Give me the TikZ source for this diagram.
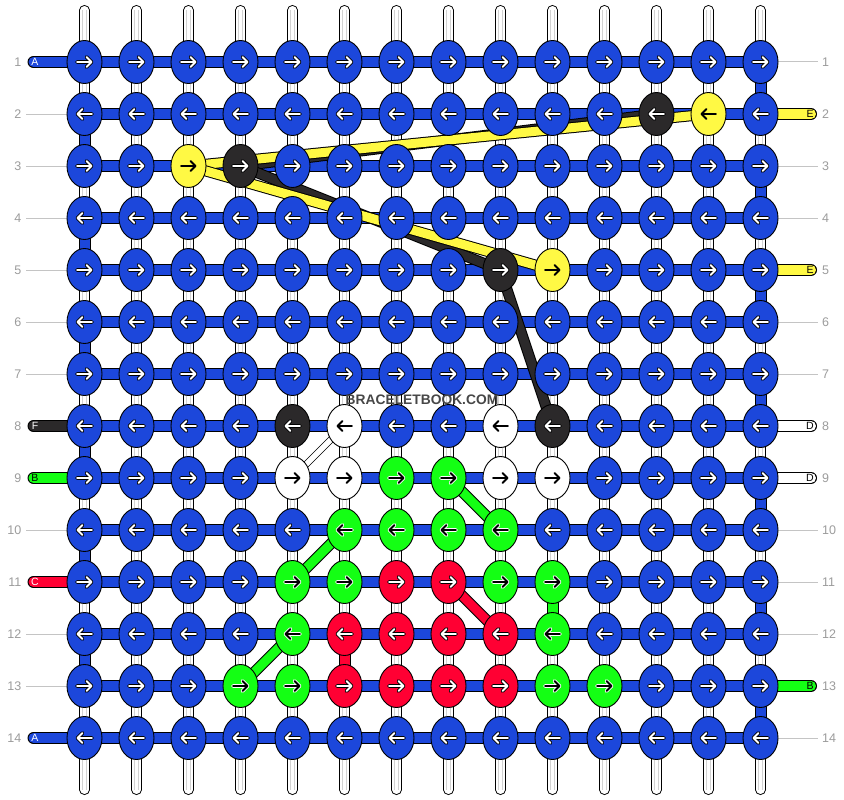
\documentclass[tikz,border=0pt]{standalone}
\usepackage{fontspec}
\setmainfont{Liberation Sans}
\usetikzlibrary{shapes.geometric}
\definecolor{cb}{HTML}{1C47DB}
\definecolor{ck}{HTML}{2B292A}
\definecolor{cy}{HTML}{FFF944}
\definecolor{cw}{HTML}{FFFFFF}
\definecolor{cg}{HTML}{14FF14}
\definecolor{cr}{HTML}{FF0033}
\definecolor{numgray}{HTML}{9C9C9C}
\definecolor{linegray}{HTML}{C4C4C4}
\definecolor{stripegray}{HTML}{D2D2D2}
\tikzset{
  knot/.style={ellipse, draw=black, line width=0.9pt, minimum width=35pt, minimum height=43pt, inner sep=0pt},
  vout/.style={draw=black, line width=10.5pt, line cap=round},
  vin/.style={draw=white, line width=8.5pt, line cap=round},
  vstripe/.style={draw=stripegray, line width=0.8pt},
  sout/.style={draw=black, line width=12pt},
  sin/.style={draw=#1, line width=10pt},
  tout/.style={draw=black, line width=12pt, line cap=round},
  tin/.style={draw=#1, line width=10pt, line cap=round},
  dout/.style={draw=black, line width=11pt},
  din/.style={draw=#1, line width=9pt},
  gline/.style={draw=linegray, line width=1pt},
  numlab/.style={text=numgray, font=\fontsize{12.5}{13}\selectfont, inner sep=0pt},
  taglab/.style={text=#1, font=\fontsize{10.5}{11}\selectfont, inner sep=0pt},
  afg-b/.style={draw=white}, abg-b/.style={draw=black},
  afg-k/.style={draw=white}, abg-k/.style={draw=black},
  afg-r/.style={draw=white}, abg-r/.style={draw=black},
  afg-y/.style={draw=black}, abg-y/.style={draw=cy},
  afg-w/.style={draw=black}, abg-w/.style={draw=white},
  afg-g/.style={draw=black}, abg-g/.style={draw=white},
  arrw/.style={line cap=round, line join=round}
}
\begin{document}
\begin{tikzpicture}[x=1pt,y=-1pt]
\useasboundingbox (0,0) rectangle (844,800);
\fill[white] (0,0) rectangle (844,800);

% grid coordinates
\foreach \r in {1,...,14} {
  \foreach \c in {1,...,14} {
    \coordinate (p-\r-\c) at ({84.5+52*(\c-1)}, {62+52*(\r-1)});
  }
  \coordinate (lt-\r) at (33.5, {62+52*(\r-1)});
  \coordinate (rt-\r) at (811, {62+52*(\r-1)});
  \coordinate (lg-\r) at (26, {62+52*(\r-1)});
  \coordinate (rg-\r) at (818, {62+52*(\r-1)});
  \node[numlab, anchor=east] (nl-\r) at (21.5, {62+52*(\r-1)}) {\r};
  \node[numlab, anchor=west] (nr-\r) at (822, {62+52*(\r-1)}) {\r};
}
\foreach \c in {1,...,14} {
  \coordinate (t-\c) at ({84.5+52*(\c-1)}, 10.25);
  \coordinate (bt-\c) at ({84.5+52*(\c-1)}, 789.75);
}

% gray row lines
\foreach \r in {2,3,4,5,6,7,10,12,13} { \draw[gline] (lg-\r) -- (p-\r-1); }
\foreach \r in {1,3,4,6,7,10,11,12,14} { \draw[gline] (p-\r-14) -- (rg-\r); }

% vertical strings
\foreach \c in {1,...,14} {
  \draw[vout] (t-\c) -- (bt-\c);
  \draw[vin] (t-\c) -- (bt-\c);
  \draw[vstripe] ([xshift=-2pt]t-\c) -- ([xshift=-2pt]bt-\c);
  \draw[vstripe] ([xshift=2pt]t-\c) -- ([xshift=2pt]bt-\c);
}

% tags
\foreach \r/\col/\lab/\tc in {1/cb/A/white, 8/ck/F/white, 9/cg/B/black, 11/cr/C/white, 14/cb/A/white} {
  \draw[tout] (lt-\r) -- (p-\r-1);
  \draw[tin=\col] (lt-\r) -- (p-\r-1);
  \node[taglab=\tc] (tl-\r) at (35, {62+52*(\r-1)}) {\lab};
}
\foreach \r/\col/\lab/\tc in {2/cy/E/black, 5/cy/E/black, 8/cw/D/black, 9/cw/D/black, 13/cg/B/black} {
  \draw[tout] (p-\r-14) -- (rt-\r);
  \draw[tin=\col] (p-\r-14) -- (rt-\r);
  \node[taglab=\tc] (tr-\r) at (810, {62+52*(\r-1)}) {\lab};
}

% horizontal strings
\foreach \r in {1,...,14} {
  \draw[sout] (p-\r-1) -- (p-\r-14);
  \draw[sin=cb] (p-\r-1) -- (p-\r-14);
}

% vertical blue turns at edges
\foreach \r [evaluate=\r as \n using int(\r+1)] in {1,3,5,7,9,11,13} {
  \draw[sout] (p-\r-14) -- (p-\n-14);
  \draw[sin=cb] (p-\r-14) -- (p-\n-14);
}
\foreach \r [evaluate=\r as \n using int(\r+1)] in {2,4,6,8,10,12} {
  \draw[sout] (p-\r-1) -- (p-\n-1);
  \draw[sin=cb] (p-\r-1) -- (p-\n-1);
}

% coloured straight verticals
\draw[sout] (p-12-6) -- (p-13-6);  \draw[sin=cr] (p-12-6) -- (p-13-6);
\draw[sout] (p-11-10) -- (p-12-10); \draw[sin=cg] (p-11-10) -- (p-12-10);

% diagonals
\foreach \a/\b in {p-2-12/p-3-4, p-3-4/p-5-9, p-5-9/p-8-10} {
  \draw[dout] (\a) -- (\b); \draw[din=ck] (\a) -- (\b);
}
\foreach \a/\b in {p-2-13/p-3-3, p-3-3/p-5-10} {
  \draw[dout] (\a) -- (\b); \draw[din=cy] (\a) -- (\b);
}
\draw[draw=black, line width=7pt] (p-9-5) -- (p-8-6);
\draw[draw=white, line width=5.4pt] (p-9-5) -- (p-8-6);
\foreach \a/\b in {p-9-8/p-10-9, p-10-6/p-11-5, p-12-5/p-13-4} {
  \draw[dout] (\a) -- (\b); \draw[din=cg] (\a) -- (\b);
}
\draw[dout] (p-11-8) -- (p-12-9); \draw[din=cr] (p-11-8) -- (p-12-9);

% knots
\foreach \r/\cols in {
  1/{b,b,b,b,b,b,b,b,b,b,b,b,b,b},
  2/{b,b,b,b,b,b,b,b,b,b,b,k,y,b},
  3/{b,b,y,k,b,b,b,b,b,b,b,b,b,b},
  4/{b,b,b,b,b,b,b,b,b,b,b,b,b,b},
  5/{b,b,b,b,b,b,b,b,k,y,b,b,b,b},
  6/{b,b,b,b,b,b,b,b,b,b,b,b,b,b},
  7/{b,b,b,b,b,b,b,b,b,b,b,b,b,b},
  8/{b,b,b,b,k,w,b,b,w,k,b,b,b,b},
  9/{b,b,b,b,w,w,g,g,w,w,b,b,b,b},
  10/{b,b,b,b,b,g,g,g,g,b,b,b,b,b},
  11/{b,b,b,b,g,g,r,r,g,g,b,b,b,b},
  12/{b,b,b,b,g,r,r,r,r,g,b,b,b,b},
  13/{b,b,b,g,g,r,r,r,r,g,g,b,b,b},
  14/{b,b,b,b,b,b,b,b,b,b,b,b,b,b}} {
  \pgfmathsetmacro\dir{mod(\r,2)==1 ? 1 : -1}
  \foreach \col [count=\c] in \cols {
    \node[knot, fill=c\col] (k-\r-\c) at (p-\r-\c) {};
    \begin{scope}[shift={(p-\r-\c)}, xscale=\dir]
      \draw[abg-\col, arrw, line width=3.6pt] (-7.5,0) -- (7,0) (2,-5) -- (7,0) -- (2,5);
      \draw[afg-\col, arrw, line width=1.8pt] (-7.5,0) -- (7,0) (2,-5) -- (7,0) -- (2,5);
    \end{scope}
  }
}

% watermark
\node[font=\bfseries\fontsize{13.8}{14}\selectfont, text=black!72, inner sep=0pt] (wm) at (422,399.5) {BRACELETBOOK.COM};
\end{tikzpicture}
\end{document}
